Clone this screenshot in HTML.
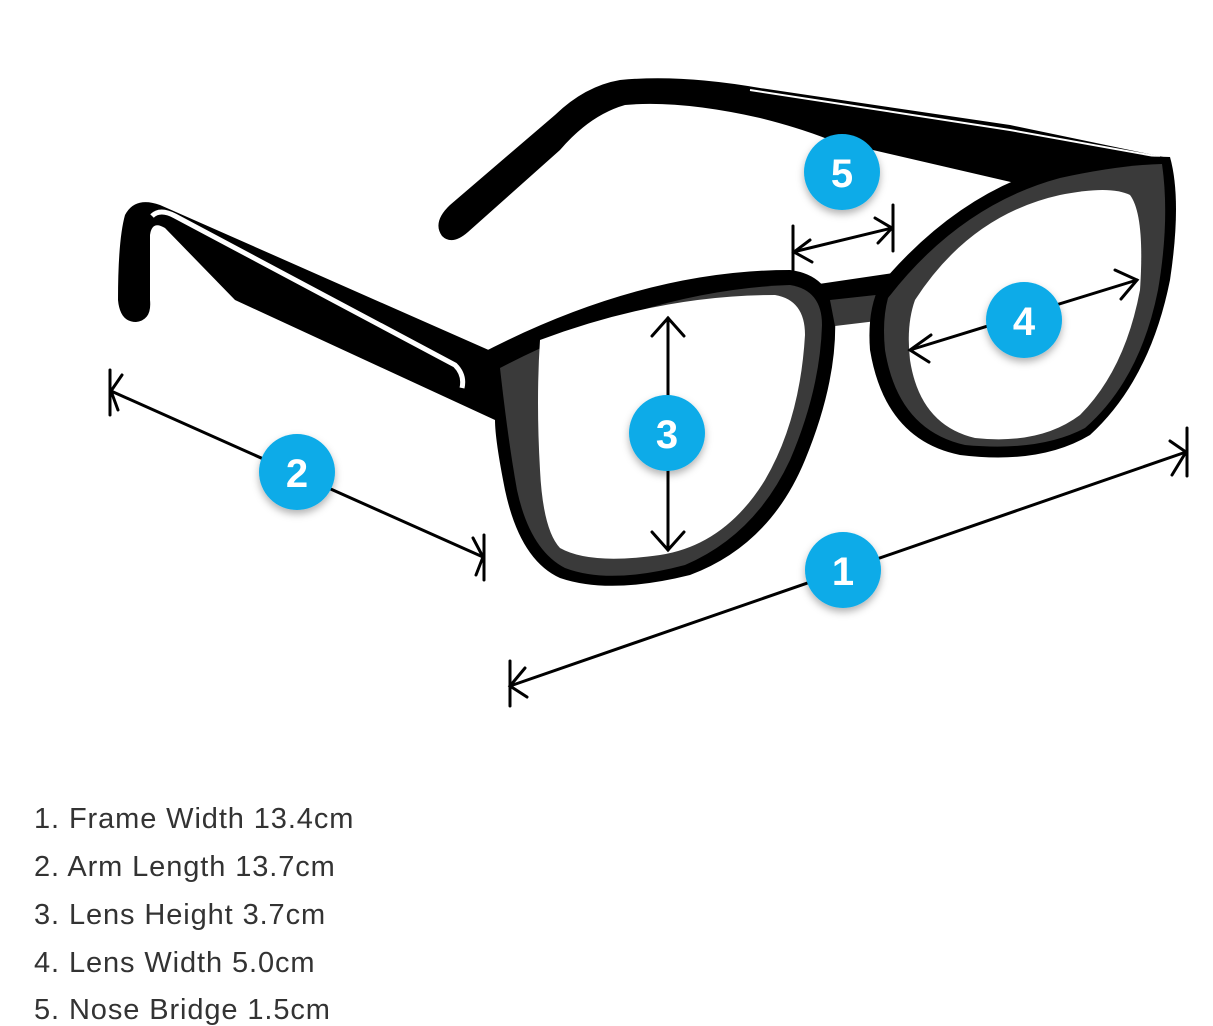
<!DOCTYPE html>
<html><head><meta charset="utf-8"><style>
html,body{margin:0;padding:0;background:#fff;width:1213px;height:1018px;overflow:hidden}
svg{position:absolute;left:0;top:0}
.t{position:absolute;left:34px;font-family:"Liberation Sans",sans-serif;font-size:29px;color:#333;letter-spacing:0.9px;line-height:1}
</style></head><body>
<svg width="1213" height="1018" viewBox="0 0 1213 1018">
<defs>
<filter id="sh" x="-50%" y="-50%" width="200%" height="200%"><feDropShadow dx="0" dy="4" stdDeviation="4" flood-color="#000" flood-opacity="0.3"/></filter>
</defs>
<!-- far arm -->
<path d="M1168,158 L1010,125 L760,88 Q680,74 620,80 Q585,86 555,115 L450,205 Q432,222 442,236 Q452,246 468,232 L560,150 Q590,115 625,105 Q680,100 760,118 Q800,128 830,140 L1015,183 Z" fill="#000"/>
<path d="M750,90 L1010,130 L1160,157" stroke="#fff" stroke-width="2" fill="none"/>
<!-- near arm -->
<path d="M500,355 L160,205 Q135,196 125,215 Q118,240 118,300 Q120,322 136,322 Q152,320 150,300 L150,235 Q152,220 165,228 L235,300 L495,420 Z" fill="#000"/>
<path d="M152,216 Q160,208 175,216 L455,365 Q465,375 462,388" stroke="#fff" stroke-width="5" fill="none"/>
<!-- left lens frame -->
<path d="M478,355 Q640,270 790,270 Q830,275 835,315 Q838,380 805,460 Q770,545 690,575 Q610,595 560,578 Q520,560 505,490 Q495,440 495,420 Z" fill="#000"/>
<path d="M500,368 Q650,290 790,285 Q822,290 822,325 Q820,390 790,460 Q755,535 685,565 Q610,585 565,568 Q530,550 517,490 Q508,440 500,368 Z" fill="#3a3a3a"/>
<path d="M540,340 Q660,295 775,295 Q805,300 805,335 Q800,420 765,480 Q725,545 660,555 Q590,565 560,548 Q543,530 540,470 Q536,400 540,340 Z" fill="#fff"/>
<!-- bridge -->
<path d="M812,285 L900,272 L895,305 L835,312 Z" fill="#000"/>
<path d="M830,300 L885,294 L885,320 L835,326 Z" fill="#3a3a3a"/>
<!-- right lens frame -->
<path d="M880,285 Q960,190 1060,165 Q1120,155 1170,157 Q1182,200 1170,280 Q1150,380 1090,435 Q1040,465 960,455 Q885,440 870,350 Q867,310 880,285 Z" fill="#000"/>
<path d="M888,298 Q960,205 1060,178 Q1120,165 1162,164 Q1170,220 1158,290 Q1140,380 1085,428 Q1040,452 965,445 Q898,430 885,350 Q882,320 888,298 Z" fill="#3a3a3a"/>
<path d="M915,300 Q970,215 1060,195 Q1110,185 1130,195 Q1145,215 1140,290 Q1125,370 1080,415 Q1040,445 975,438 Q920,425 910,360 Q906,325 915,300 Z" fill="#fff"/>
<!-- measurements -->
<g stroke="#000" stroke-width="3" fill="none" stroke-linecap="round">
<line x1="111" y1="391" x2="483" y2="557"/>
<line x1="110" y1="370" x2="110" y2="415"/><polyline points="122,375 111,391 118,410"/>
<line x1="484" y1="535" x2="484" y2="580"/><polyline points="473,538 483,557 476,575"/>
<line x1="510" y1="686" x2="1186" y2="452"/>
<line x1="510" y1="661" x2="510" y2="706"/><polyline points="525,668 510,686 527,697"/>
<line x1="1187" y1="428" x2="1187" y2="476"/><polyline points="1170,441 1186,452 1172,475"/>
<line x1="668" y1="318" x2="668" y2="550"/>
<polyline points="652,336 668,318 684,336"/><polyline points="652,532 668,550 684,532"/>
<line x1="910" y1="350" x2="1137" y2="280"/>
<polyline points="931,335 910,350 929,362"/><polyline points="1115,270 1137,280 1121,299"/>
<line x1="793" y1="252" x2="892" y2="228"/>
<line x1="793" y1="226" x2="793" y2="270"/><line x1="893" y1="205" x2="893" y2="251"/>
<polyline points="810,240 794,252 812,262"/><polyline points="875,218 892,228 878,243"/>
</g>
<g font-family="Liberation Sans, sans-serif" font-weight="bold" font-size="40" fill="#fff" text-anchor="middle">
<circle cx="297" cy="472" r="38" fill="#0aabe8" filter="url(#sh)"/><text x="297" y="487">2</text>
<circle cx="843" cy="570" r="38" fill="#0aabe8" filter="url(#sh)"/><text x="843" y="585">1</text>
<circle cx="667" cy="433" r="38" fill="#0aabe8" filter="url(#sh)"/><text x="667" y="448">3</text>
<circle cx="1024" cy="320" r="38" fill="#0aabe8" filter="url(#sh)"/><text x="1024" y="335">4</text>
<circle cx="842" cy="172" r="38" fill="#0aabe8" filter="url(#sh)"/><text x="842" y="187">5</text>
</g>
</svg>
<div class="t" style="top:805px">1. Frame Width 13.4cm</div>
<div class="t" style="top:853px">2. Arm Length 13.7cm</div>
<div class="t" style="top:901px">3. Lens Height 3.7cm</div>
<div class="t" style="top:949px">4. Lens Width 5.0cm</div>
<div class="t" style="top:996px">5. Nose Bridge 1.5cm</div>
</body></html>
